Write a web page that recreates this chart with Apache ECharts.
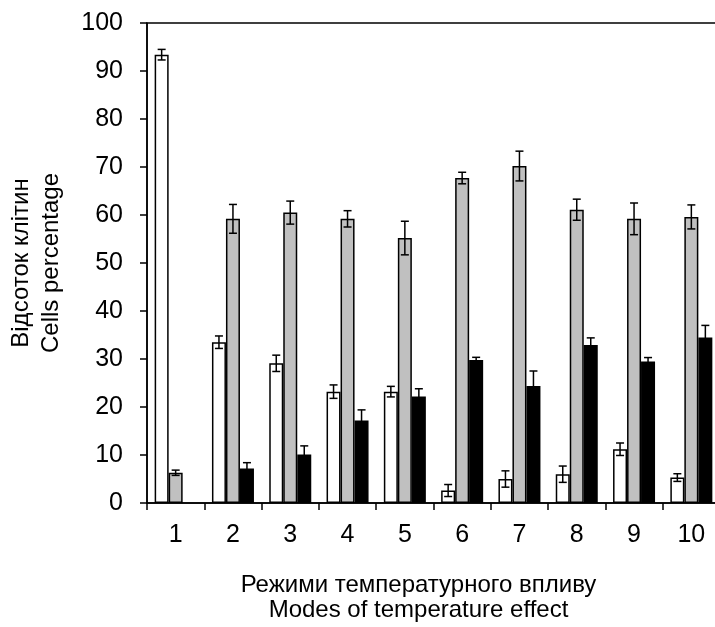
<!DOCTYPE html>
<html>
<head>
<meta charset="utf-8">
<script src="https://cdn.jsdelivr.net/npm/echarts@6/dist/echarts.min.js"></script>
<style>
  html, body { margin: 0; padding: 0; background: #fff; }
  #chart { width: 715px; height: 627px; }
</style>
</head>
<body>
<div id="chart"></div>
<script>
const categories = ['1', '2', '3', '4', '5', '6', '7', '8', '9', '10'];
const yTicks = [0, 10, 20, 30, 40, 50, 60, 70, 80, 90, 100];

// three groups of cells, value and error
const whiteValues = [93.4, 33.5, 29.1, 23.2, 23.2, 2.6, 5.0, 6.0, 11.2, 5.3];
const whiteErrors = [1.1, 1.3, 1.7, 1.4, 1.1, 1.25, 1.7, 1.7, 1.3, 0.8];
const grayValues = [6.3, 59.2, 60.5, 59.2, 55.2, 67.7, 70.2, 61.1, 59.2, 59.6];
const grayErrors = [0.55, 3.0, 2.4, 1.7, 3.5, 1.2, 3.1, 2.2, 3.3, 2.5];
const blackValues = [null, 7.2, 10.1, 17.2, 22.2, 29.8, 24.4, 32.9, 29.5, 34.5];
const blackErrors = [null, 1.2, 1.8, 2.2, 1.6, 0.55, 3.1, 1.5, 0.8, 2.5];

const BAR_WIDTH = 14;
const FONT = 'Liberation Sans, Arial, sans-serif';

function errorSeries(values, errors, offsetIndex) {
  const data = values.map((v, i) => (v == null ? null : [i, v - errors[i], v + errors[i]]));
  return {
    type: 'custom',
    z: 10,
    renderItem: (params, api) => {
      const idx = api.value(0);
      const low = api.coord([idx, api.value(1)]);
      const high = api.coord([idx, api.value(2)]);
      const x = low[0] + offsetIndex * BAR_WIDTH;
      const cap = 4;
      const style = { stroke: '#000', lineWidth: 1.5 };
      return {
        type: 'group',
        children: [
          { type: 'line', shape: { x1: x, y1: high[1], x2: x, y2: low[1] }, style },
          { type: 'line', shape: { x1: x - cap, y1: high[1], x2: x + cap, y2: high[1] }, style },
          { type: 'line', shape: { x1: x - cap, y1: low[1], x2: x + cap, y2: low[1] }, style },
        ],
      };
    },
    data: data.filter((d) => d !== null),
  };
}

function barSeries(values, color) {
  return {
    type: 'bar',
    data: values,
    barWidth: BAR_WIDTH,
    barGap: '0%',
    itemStyle: {
      color: color,
      borderColor: '#000',
      borderWidth: 1.5,
    },
  };
}

const chart = echarts.init(document.getElementById('chart'));
chart.setOption({
  animation: false,
  textStyle: { fontFamily: FONT },
  grid: {
    left: 147,
    top: 23,
    width: 573,
    height: 480,
    outerBoundsMode: 'none',
    containLabel: false,
    show: true,
    borderColor: '#000',
    borderWidth: 1.5,
    backgroundColor: 'transparent',
  },
  xAxis: {
    type: 'category',
    data: categories,
    name: 'Режими температурного впливу\nModes of temperature effect',
    nameLocation: 'middle',
    nameGap: 70,
    nameTextStyle: { fontSize: 24, color: '#000', lineHeight: 25, fontFamily: FONT, padding: [0, 30, 0, 0] },
    axisLine: { lineStyle: { color: '#000', width: 1.5 } },
    axisTick: { show: true, length: 7, lineStyle: { color: '#000', width: 1.5 } },
    axisLabel: { fontSize: 25, color: '#000', margin: 20, fontFamily: FONT },
    splitLine: { show: false },
  },
  yAxis: {
    type: 'value',
    min: yTicks[0],
    max: yTicks[yTicks.length - 1],
    interval: 10,
    name: 'Відсоток клітин\nCells percentage',
    nameLocation: 'middle',
    nameGap: 81,
    nameTextStyle: { fontSize: 24, color: '#000', lineHeight: 30, fontFamily: FONT },
    axisLine: { show: true, lineStyle: { color: '#000', width: 1.5 } },
    axisTick: { show: true, length: 7, lineStyle: { color: '#000', width: 1.5 } },
    axisLabel: { fontSize: 25, color: '#000', margin: 24, fontFamily: FONT },
    splitLine: { show: false },
  },
  series: [
    barSeries(whiteValues, '#ffffff'),
    barSeries(grayValues, '#c0c0c0'),
    barSeries(blackValues, '#000000'),
    errorSeries(whiteValues, whiteErrors, -1),
    errorSeries(grayValues, grayErrors, 0),
    errorSeries(blackValues, blackErrors, 1),
  ],
});
</script>
</body>
</html>
